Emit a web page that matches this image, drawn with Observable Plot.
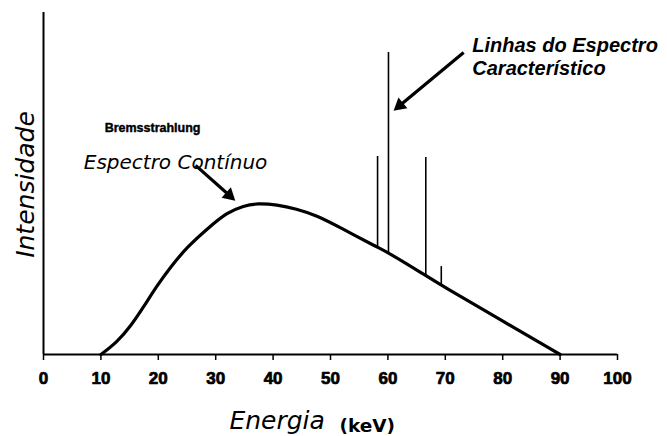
<!DOCTYPE html>
<html>
<head>
<meta charset="utf-8">
<script src="https://cdn.jsdelivr.net/npm/d3@7"></script>
<script src="https://cdn.jsdelivr.net/npm/@observablehq/plot@0.6"></script>
<style>
  html, body { margin: 0; padding: 0; background: #fff; }
  #chart svg { display: block; }
</style>
</head>
<body>
<div id="chart"></div>
<script>
// Continuous (Bremsstrahlung) spectrum
const energy    = [10, 12.8, 15.2, 17.5, 19.8, 22.1, 25.0, 28.5, 32.0, 34.9, 37.2, 40.7, 44.0, 47.7, 51.7, 58.2, 60.1, 66.6, 69.3, 80, 90];
const intensity = [0, 3.6, 8.3, 14.1, 20.2, 25.5, 31.4, 36.7, 41.6, 43.5, 44.2, 43.8, 42.6, 40.6, 37.1, 31.3, 29.8, 23.1, 20.2, 9.8, 0];

// Characteristic lines
const lineEnergy = [58.2, 60.1, 66.6, 69.3];
const lineBase   = [31.3, 29.8, 23.1, 20.2];
const lineTop    = [57.9, 88.3, 57.6, 25.7];

// X tick labels
const xTicks = [0, 10, 20, 30, 40, 50, 60, 70, 80, 90, 100];

// Annotation arrows (data coordinates: start -> tip)
const arrowX1 = [26.5, 73.2];
const arrowY1 = [55.3, 88.3];
const arrowX2 = [33.4, 61.0];
const arrowY2 = [45.0, 71.3];

const curve = energy.map((e, i) => ({energy: e, intensity: intensity[i]}));
const lines = lineEnergy.map((e, i) => ({energy: e, base: lineBase[i], top: lineTop[i]}));

const base = {
  width: 667,
  height: 436,
  marginLeft: 43,
  marginRight: 50,
  marginTop: 12,
  marginBottom: 82,
  style: {background: "#fff", color: "#000", fontFamily: "'Liberation Sans', Arial, sans-serif"},
  x: {domain: [0, 100]},
  y: {domain: [0, 100], axis: null}
};

// probe the scales to orient the filled arrow heads in screen space
const probe = Plot.plot({...base, marks: [Plot.ruleY([0])]});
const sx = probe.scale("x"), sy = probe.scale("y");
const kx = (sx.range[1] - sx.range[0]) / (sx.domain[1] - sx.domain[0]);
const ky = (sy.range[0] - sy.range[1]) / (sy.domain[1] - sy.domain[0]);
const headBack = 8; // px from tip to triangle centroid
const arrows = arrowX1.map((x1, i) => {
  const y1 = arrowY1[i], x2 = arrowX2[i], y2 = arrowY2[i];
  const dx = (x2 - x1) * kx, dy = -(y2 - y1) * ky; // screen
  const len = Math.hypot(dx, dy);
  const ux = dx / len, uy = dy / len;
  const cx = x2 - ux * headBack / kx, cy = y2 + uy * headBack / ky;
  return {x1, y1, cx, cy, rot: Math.atan2(ux, -uy) * 180 / Math.PI};
});

const chart = Plot.plot({
  ...base,
  marks: [
    Plot.ruleX([0], {stroke: "#000", strokeWidth: 2}),
    Plot.ruleY([0], {stroke: "#000", strokeWidth: 2}),
    Plot.axisX({
      ticks: xTicks, tickSize: 6, tickFormat: () => "", label: null, stroke: "#000", strokeWidth: 1.5
    }),
    Plot.text(xTicks, {x: d => d, y: 0, dy: 24, text: d => String(d), fontSize: 17, fontWeight: "bold", textAnchor: "middle", fill: "#000", stroke: "#000", strokeWidth: 0.7}),
    Plot.line(curve, {x: "energy", y: "intensity", curve: "basis", stroke: "#000", strokeWidth: 3.2}),
    Plot.ruleX(lines, {x: "energy", y1: "base", y2: "top", stroke: "#000", strokeWidth: 1.6}),
    Plot.link(arrows, {x1: "x1", y1: "y1", x2: "cx", y2: "cy", stroke: "#000", strokeWidth: 3.2}),
    Plot.dot(arrows, {x: "cx", y: "cy", rotate: "rot", symbol: "triangle", r: 5.2, fill: "#000", stroke: null}),
    Plot.text(["Bremsstrahlung"], {x: 19.0, y: 66.1, fontSize: 12.5, fontWeight: "bold", textAnchor: "middle", fill: "#000", stroke: "#000", strokeWidth: 0.4}),
    Plot.text(["Espectro Contínuo"], {x: 23.0, y: 56.1, fontSize: 20, fontStyle: "italic", fontFamily: "DejaVu Sans", textAnchor: "middle"}),
    Plot.text(["Linhas do Espectro"], {x: 74.7, y: 90.4, fontSize: 20, fontStyle: "italic", fontWeight: "bold", textAnchor: "start"}),
    Plot.text(["Característico"], {x: 74.7, y: 83.6, fontSize: 20, fontStyle: "italic", fontWeight: "bold", textAnchor: "start"}),
    Plot.text(["Intensidade"], {x: -3.0, y: 49.7, rotate: -90, fontSize: 25, fontStyle: "italic", fontFamily: "DejaVu Sans", textAnchor: "middle"}),
    Plot.text(["Energia"], {x: 40.7, y: -19.3, fontSize: 25, fontStyle: "italic", fontFamily: "DejaVu Sans", textAnchor: "middle"}),
    Plot.text(["(keV)"], {x: 56.4, y: -20.8, fontSize: 18.5, fontWeight: "bold", fontFamily: "DejaVu Sans", textAnchor: "middle"})
  ]
});
document.getElementById("chart").appendChild(chart);
</script>
</body>
</html>
